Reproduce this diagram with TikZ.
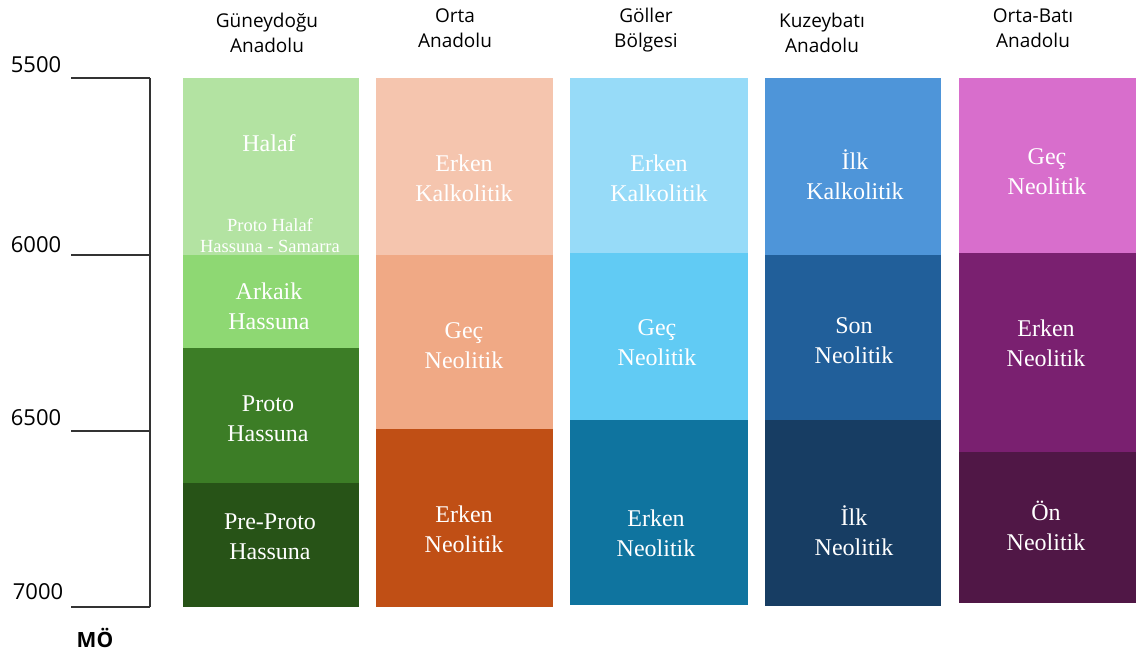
\documentclass[tikz,border=0pt]{standalone}
\usepackage{fontspec}
\setmainfont{Liberation Serif}
\newfontfamily\hdrfont{Open Sans}
\definecolor{gA}{HTML}{B3E3A2}
\definecolor{gB}{HTML}{8ED873}
\definecolor{gC}{HTML}{3C7D26}
\definecolor{gD}{HTML}{275317}
\definecolor{oA}{HTML}{F5C5AE}
\definecolor{oB}{HTML}{F0A985}
\definecolor{oC}{HTML}{C04F15}
\definecolor{cA}{HTML}{97DBF8}
\definecolor{cB}{HTML}{61CBF4}
\definecolor{cC}{HTML}{0F749F}
\definecolor{nA}{HTML}{4E95D9}
\definecolor{nB}{HTML}{215F9A}
\definecolor{nC}{HTML}{173D63}
\definecolor{pA}{HTML}{D86ECC}
\definecolor{pB}{HTML}{7A2070}
\definecolor{pC}{HTML}{501746}
\definecolor{axisc}{HTML}{333333}
\tikzset{
  bandtext/.style={text=white, font=\fontsize{24}{30}\selectfont, align=center, inner sep=0pt},
  smalltext/.style={text=white, font=\fontsize{18.5}{21}\selectfont, align=center, inner sep=0pt},
  header/.style={font=\hdrfont\fontsize{19}{25}\selectfont, align=center, inner sep=0pt, text=black},
  yearlabel/.style={font=\hdrfont\fontsize{22}{25}\selectfont, inner sep=0pt, text=black},
  axisline/.style={draw=axisc, line width=1.4pt},
}
\begin{document}
\begin{tikzpicture}[x=1pt,y=-1pt]
\useasboundingbox (0,0) rectangle (1136,655);
% axis
\coordinate (a0) at (150,78);
\coordinate (a1) at (150,607);
\foreach \y/\n in {78/5500,255/6000,431/6500,607/7000}{
  \coordinate (tl\n) at (71,\y);
  \coordinate (tr\n) at (150,\y);
  \draw[axisline] (tl\n) -- (tr\n);
}
\draw[axisline] (a0) -- (a1);
\node[yearlabel] (y5500) at (36,65) {5500};
\node[yearlabel] (y6000) at (36,245) {6000};
\node[yearlabel] (y6500) at (36,418) {6500};
\node[yearlabel] (y7000) at (38,592) {7000};
\node[font=\hdrfont\bfseries\fontsize{21}{24}\selectfont, inner sep=0pt] (mo) at (95,638) {MÖ};
% headers
\node[header] (h1) at (267,33) {Güneydoğu\\Anadolu};
\node[header] (h2) at (455,28) {Orta\\Anadolu};
\node[header] (h3) at (646,30) {Göller\\Bölgesi};
\node[header] (h4) at (822,33) {Kuzeybatı\\Anadolu};
\node[header] (h5) at (1033,28) {Orta-Batı\\Anadolu};
% column 1
\fill[gA] (183,78) rectangle (359,255);
\fill[gB] (183,255) rectangle (359,348);
\fill[gC] (183,348) rectangle (359,483);
\fill[gD] (183,483) rectangle (359,607);
\node[bandtext] (c1a) at (269,143) {Halaf};
\node[smalltext] (c1b) at (270,236) {Proto Halaf\\Hassuna - Samarra};
\node[bandtext] (c1c) at (269,306) {Arkaik\\Hassuna};
\node[bandtext] (c1d) at (268,419) {Proto\\Hassuna};
\node[bandtext] (c1e) at (270,537) {Pre-Proto\\Hassuna};
% column 2
\fill[oA] (376,78) rectangle (553,255);
\fill[oB] (376,255) rectangle (553,429);
\fill[oC] (376,429) rectangle (553,607);
\node[bandtext] (c2a) at (464,178) {Erken\\Kalkolitik};
\node[bandtext] (c2b) at (464,346) {Geç\\Neolitik};
\node[bandtext] (c2c) at (464,529) {Erken\\Neolitik};
% column 3
\fill[cA] (570,78) rectangle (748,253);
\fill[cB] (570,253) rectangle (748,420);
\fill[cC] (570,420) rectangle (748,605);
\node[bandtext] (c3a) at (659,178) {Erken\\Kalkolitik};
\node[bandtext] (c3b) at (657,343) {Geç\\Neolitik};
\node[bandtext] (c3c) at (656,533) {Erken\\Neolitik};
% column 4
\fill[nA] (765,78) rectangle (941,255);
\fill[nB] (765,255) rectangle (941,420);
\fill[nC] (765,420) rectangle (941,606);
\node[bandtext] (c4a) at (855,175) {İlk\\Kalkolitik};
\node[bandtext] (c4b) at (854,341) {Son\\Neolitik};
\node[bandtext] (c4c) at (854,531) {İlk\\Neolitik};
% column 5
\fill[pA] (959,78) rectangle (1136,253);
\fill[pB] (959,253) rectangle (1136,452);
\fill[pC] (959,452) rectangle (1136,603);
\node[bandtext] (c5a) at (1047,172) {Geç\\Neolitik};
\node[bandtext] (c5b) at (1046,343) {Erken\\Neolitik};
\node[bandtext] (c5c) at (1046,526) {Ön\\Neolitik};
\end{tikzpicture}
\end{document}
